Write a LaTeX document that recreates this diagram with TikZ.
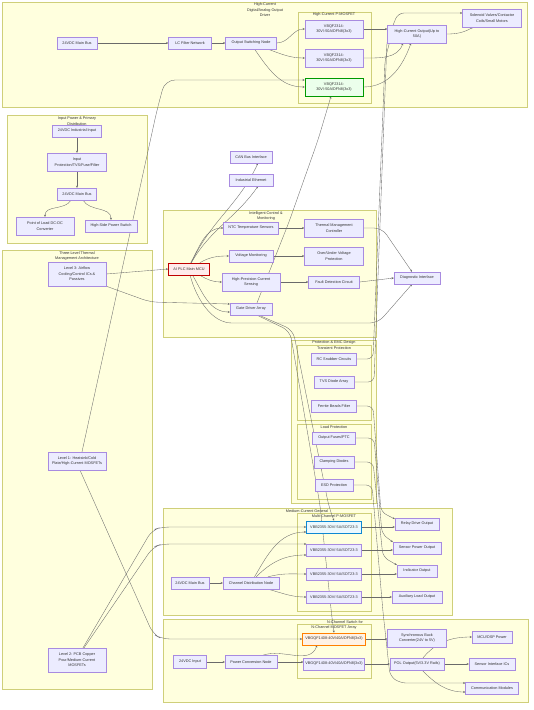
\documentclass[tikz,border=0pt]{standalone}
\usepackage{fontspec}
\setmainfont{Liberation Sans}
\usetikzlibrary{arrows.meta}
\definecolor{grpfill}{HTML}{FFFFDE}
\definecolor{grpline}{HTML}{CFCF7A}
\definecolor{boxfill}{HTML}{ECECFF}
\definecolor{boxline}{HTML}{A88BE0}
\definecolor{txt}{HTML}{333333}
\definecolor{wirecol}{HTML}{6A6A6A}
\pgfdeclarelayer{grp}
\pgfdeclarelayer{wires}
\pgfsetlayers{grp,wires,main}
\newcommand\dfont{\fontsize{3.8}{5.5}\selectfont}
\tikzset{
  box/.style={draw=boxline, fill=boxfill, line width=0.35pt, align=center,
    inner sep=0pt, minimum height=12pt, minimum width=#1, font=\dfont, text=txt},
  box/.default=40pt,
  tall/.style={minimum height=18pt},
  pinkbox/.style={fill=red!8, draw=red!75!black, line width=0.6pt},
  greenbox/.style={fill=green!8, draw=green!60!black, line width=0.6pt},
  bluebox/.style={fill=cyan!8, draw=cyan!70!blue, line width=0.6pt},
  orangebox/.style={fill=orange!10, draw=orange, line width=0.6pt},
  grp/.style={draw=grpline, fill=grpfill, line width=0.35pt},
  grptitle/.style={align=center, inner sep=0pt, font=\dfont, text=txt},
  wire/.style={draw=wirecol, line width=0.35pt, -{Stealth[length=2.2pt,width=2pt]}},
}
\begin{document}
\begin{tikzpicture}[x=1pt,y=-1pt]
\useasboundingbox (0,0) rectangle (534,710);

% groups
\begin{pgfonlayer}{grp}
\fill[white] (0,0) rectangle (534,710);
\draw[grp] (2,2) rectangle (527,107);
\node[grptitle] (tDrv) at (265,10) {High-Current\\Digital/Analog Output\\Driver};
\draw[grp] (298,12) rectangle (371,103);
\node[grptitle] (tHp) at (334,15) {High-Current P-MOSFET};
\draw[grp] (7,115) rectangle (147,243);
\node[grptitle] (tIn) at (77,121) {Input Power \& Primary\\Distribution};
\draw[grp] (2,250) rectangle (152,689);
\node[grptitle] (tThr) at (77,256) {Three-Level Thermal\\Management Architecture};
\draw[grp] (163,210) rectangle (376,337);
\node[grptitle] (tCtl) at (266,216) {Intelligent Control \&\\Monitoring};
\draw[grp] (291,340) rectangle (376,503);
\node[grptitle] (tPro) at (334,342.5) {Protection \& EMC Design};
\draw[grp] (297,345.5) rectangle (371,420);
\node[grptitle] (tTr) at (334,348.5) {Transient Protection};
\draw[grp] (297,424) rectangle (371,499);
\node[grptitle] (tLd) at (334,427.5) {Load Protection};
\draw[grp] (163,508) rectangle (452,615);
\node[grptitle] (tMed) at (307,511) {Medium-Current General};
\draw[grp] (297,513) rectangle (371,611);
\node[grptitle] (tMp) at (334,516) {Multi-Channel P-MOSFET};
\draw[grp] (163,619) rectangle (528,702);
\node[grptitle] (tNs) at (345,622) {N-Channel Switch for};
\draw[grp] (297,624.5) rectangle (371,678);
\node[grptitle] (tNa) at (334,627.5) {N-Channel MOSFET Array};
\end{pgfonlayer}

% high-current output driver
\node[box=40pt] (bus24) at (77,43) {24VDC Main Bus};
\node[box=43pt] (lcf) at (190,43) {LC Filter Network};
\node[box=51pt] (osn) at (251,43) {Output Switching Node};
\node[box=58pt, tall] (hp1) at (334,29) {VBQF2314-\\30V/-50A/DFN8(3x3)};
\node[box=58pt, tall] (hp2) at (334,58) {VBQF2314-\\30V/-50A/DFN8(3x3)};
\node[box=58pt, tall, greenbox] (hp3) at (334,87) {VBQF2314-\\30V/-50A/DFN8(3x3)};
\node[box=59pt, tall] (hco) at (417,34) {High-Current Output(Up to\\50A)};
\node[box=59pt, tall] (sol) at (492,18) {Solenoid Valves/Contactor\\Coils/Small Motors};

% input power
\node[box=49pt] (indc) at (77,131) {24VDC Industrial Input};
\node[box=59pt, tall] (inprot) at (77,162) {Input\\Protection/TVS/Fuse/Filter};
\node[box=39pt] (mbus) at (77,194) {24VDC Main Bus};
\node[box=58pt, tall] (pold) at (45,226) {Point of Load DC-DC\\Converter};
\node[box=52pt] (hss) at (111,226) {High-Side Power Switch};

% thermal levels
\node[box=58pt, minimum height=24pt] (lv3) at (77,274) {Level 3: Airflow\\Cooling/Control ICs \&\\Passives};
\node[box=58pt, tall] (lv1) at (77,461) {Level 1: Heatsink/Cold\\Plate/High-Current MOSFETs};
\node[box=58pt, minimum height=24pt] (lv2) at (77,660) {Level 2: PCB Copper\\Pour/Medium-Current\\MOSFETs};

% control
\node[box=42pt] (can) at (251,157) {CAN Bus Interface};
\node[box=44pt] (eth) at (251,180) {Industrial Ethernet};
\node[box=55pt] (ntc) at (251,228) {NTC Temperature Sensors};
\node[box=59pt, tall] (tmc) at (334,228) {Thermal Management\\Controller};
\node[box=44pt] (vmon) at (251,256) {Voltage Monitoring};
\node[box=59pt, tall] (ouv) at (334,256) {Over/Under Voltage\\Protection};
\node[box=41pt, pinkbox] (mcu) at (189,269) {AI PLC Main MCU};
\node[box=58pt, tall] (csen) at (251,282) {High-Precision Current\\Sensing};
\node[box=51pt] (fdc) at (334,282) {Fault Detection Circuit};
\node[box=42pt] (gda) at (251,309) {Gate Driver Array};
\node[box=46pt] (diag) at (417,278) {Diagnostic Interface};

% protection
\node[box=45pt] (rcs) at (334,359) {RC Snubber Circuits};
\node[box=40pt] (tvs) at (334,382) {TVS Diode Array};
\node[box=45pt] (fbf) at (334,406) {Ferrite Beads Filter};
\node[box=43pt] (ofu) at (334,438) {Output Fuses/PTC};
\node[box=40pt] (cld) at (334,462) {Clamping Diodes};
\node[box=38pt] (esd) at (334,485) {ESD Protection};

% medium current
\node[box=55pt, bluebox] (mm1) at (334,527) {VBB2355-30V/-5A/SOT23-3};
\node[box=55pt] (mm2) at (334,550) {VBB2355-30V/-5A/SOT23-3};
\node[box=55pt] (mm3) at (334,574) {VBB2355-30V/-5A/SOT23-3};
\node[box=55pt] (mm4) at (334,597) {VBB2355-30V/-5A/SOT23-3};
\node[box=38pt] (mbus2) at (190,583) {24VDC Main Bus};
\node[box=56pt] (cdn) at (251,583) {Channel Distribution Node};
\node[box=44pt] (relay) at (417,524) {Relay Drive Output};
\node[box=48pt] (spo) at (417,548) {Sensor Power Output};
\node[box=40pt] (indo) at (417,571) {Indicator Output};
\node[box=50pt] (aux) at (417,597) {Auxiliary Load Output};

% n-channel switch
\node[box=63pt, orangebox] (nm1) at (334,639) {VBGQF1408-40V/40A/DFN8(3x3)};
\node[box=61pt] (nm2) at (334,664) {VBGQF1408-40V/40A/DFN8(3x3)};
\node[box=33pt, minimum height=13pt] (din) at (190,662) {24VDC Input};
\node[box=52pt, minimum height=13pt] (pcn) at (251,662) {Power Conversion Node};
\node[box=59pt, tall] (sbk) at (417,638) {Synchronous Buck\\Converter(24V to 5V)};
\node[box=54pt] (polo) at (417,664) {POL Output(5V/3.3V Rails)};
\node[box=40pt] (mcup) at (492,637) {MCU/DSP Power};
\node[box=46pt] (sic) at (492,664) {Sensor Interface ICs};
\node[box=53pt] (comm) at (492,688) {Communication Modules};

% connectors
\begin{pgfonlayer}{wires}
\draw[wire] (bus24) -- (lcf);
\draw[wire] (lcf) -- (osn);
\draw[wire] (osn.east) to[out=0,in=180] (hp1.west);
\draw[wire] (osn.-20) to[out=-20,in=180] (hp2.west);
\draw[wire] (osn.-60) to[out=-55,in=180] (hp3.west);
\draw[wire] (hp1.east) -- (hp1.east -| hco.west);
\draw[wire] (hp2.east) to[out=0,in=-110] ([xshift=-14pt]hco.south);
\draw[wire] (hp3.east) to[out=0,in=-110] ([xshift=-6pt]hco.south);
\draw[wire] (hco.east) to[out=0,in=-150] ([xshift=-19pt]sol.south);
\draw[wire, rounded corners=6pt] (rcs.east) -- (373,359) -- (385,60) -- ([xshift=-23pt]hco.north);
\draw[wire, rounded corners=6pt] (tvs.east) -- (374,382) -- (387,40) -- (398,13) -- ([yshift=5pt]sol.west);

\draw[wire] (indc) -- (inprot);
\draw[wire] (inprot) -- (mbus);
\draw[wire] ([xshift=-6pt]mbus.south) to[out=-120,in=90] (pold.north);
\draw[wire] ([xshift=6pt]mbus.south) to[out=-60,in=90] (hss.north);

\draw[wire] (lv3.east) -- (mcu.west);
\draw[wire, rounded corners=8pt] (lv3.south east) -- (150,302) -- ([yshift=5pt]gda.west);
\draw[wire, rounded corners=10pt] ([xshift=5pt]lv1.north) -- (157,110) -- (165,80) -- ([yshift=7pt]hp3.west);
\draw[wire, rounded corners=8pt] ([xshift=3pt]lv1.south) -- (153,634) -- (162,639) -- (nm1.west);
\draw[wire, rounded corners=8pt] ([xshift=6pt]lv2.north) -- (152,530) -- (162,527) -- (mm1.west);
\draw[wire, rounded corners=8pt] ([xshift=7pt]lv2.north) -- (153,547) -- (162,544) -- ([yshift=6pt]mm2.west);

\draw[wire] (mcu.70) to[out=65,in=-115] ([xshift=7pt]can.south);
\draw[wire] (mcu.70) to[out=60,in=-125] ([xshift=7pt]eth.south);
\draw[wire] (mcu.75) to[out=60,in=180] (ntc.west);
\draw[wire] (mcu.30) to[out=30,in=180] (vmon.west);
\draw[wire] (mcu.-30) to[out=-30,in=180] (csen.west);
\draw[wire] (mcu.-60) to[out=-60,in=180] ([yshift=-3pt]gda.west);
\draw[wire, rounded corners=8pt] (mcu.-80) to[out=-75,in=180] (240,323) -- (378,323) -- ([xshift=-5pt]diag.south);
\draw[wire] (ntc) -- (tmc);
\draw[wire] (vmon) -- (ouv);
\draw[wire] (csen) -- (fdc);
\draw[wire, rounded corners=8pt] (tmc.east) -- (382,228) -- ([xshift=-5pt]diag.north);
\draw[wire] (fdc.east) -- (diag.west);
\draw[wire, rounded corners=8pt] ([xshift=6pt]gda.north) -- (289,222) -- (318,140) -- ([xshift=-3pt]hp3.south);
\draw[wire, rounded corners=8pt] ([xshift=8pt]gda.south) -- (293,330) -- (329,507) -- (mm1.north);
\draw[wire, rounded corners=8pt] ([xshift=6pt]gda.south) -- (290,331) -- (320,505) -- (332,618) -- (nm1.north);

\draw[wire, rounded corners=6pt] (fbf.east) -- (373,406) -- (381,512) -- ([yshift=5pt]relay.west);
\draw[wire, rounded corners=6pt] (ofu.east) -- (374,438) -- (382,534) -- ([yshift=6pt]spo.west);
\draw[wire, rounded corners=6pt] (cld.east) -- (373,462) -- (383,557) -- ([yshift=6pt]indo.west);
\draw[wire, rounded corners=6pt] (esd.east) -- (372,485) -- (383,612) -- (390,676) -- (400,683) -- ([yshift=5pt]comm.west);

\draw[wire] (mbus2) -- (cdn);
\draw[wire] (cdn.60) to[out=60,in=180] ([yshift=-5pt]mm1.west);
\draw[wire] (cdn.50) to[out=45,in=180] ([yshift=-5pt]mm2.west);
\draw[wire] (cdn.20) to[out=15,in=180] (mm3.west);
\draw[wire] (cdn.-20) to[out=-15,in=180] (mm4.west);
\draw[wire] (mm1.east) -- (mm1.east -| relay.west);
\draw[wire] (mm2.east) -- (mm2.east -| spo.west);
\draw[wire] (mm3.east) -- (mm3.east -| indo.west);
\draw[wire] (mm4.east) -- (mm4.east -| aux.west);

\draw[wire] (din) -- (pcn);
\draw[wire] (pcn.30) to[out=20,in=-110] ([xshift=-17pt]nm1.south);
\draw[wire] (pcn.east) -- (pcn.east -| nm2.west);
\draw[wire] (nm1.east) -- (nm1.east -| sbk.west);
\draw[wire] (nm2.east) -- (nm2.east -| polo.west);
\draw[wire] ([xshift=6pt]polo.north) to[out=50,in=180] (mcup.west);
\draw[wire] (polo.east) -- (polo.east -| sic.west);
\draw[wire] ([xshift=5pt]polo.south) to[out=-45,in=180] ([yshift=-4pt]comm.west);
\end{pgfonlayer}
\end{tikzpicture}
\end{document}
